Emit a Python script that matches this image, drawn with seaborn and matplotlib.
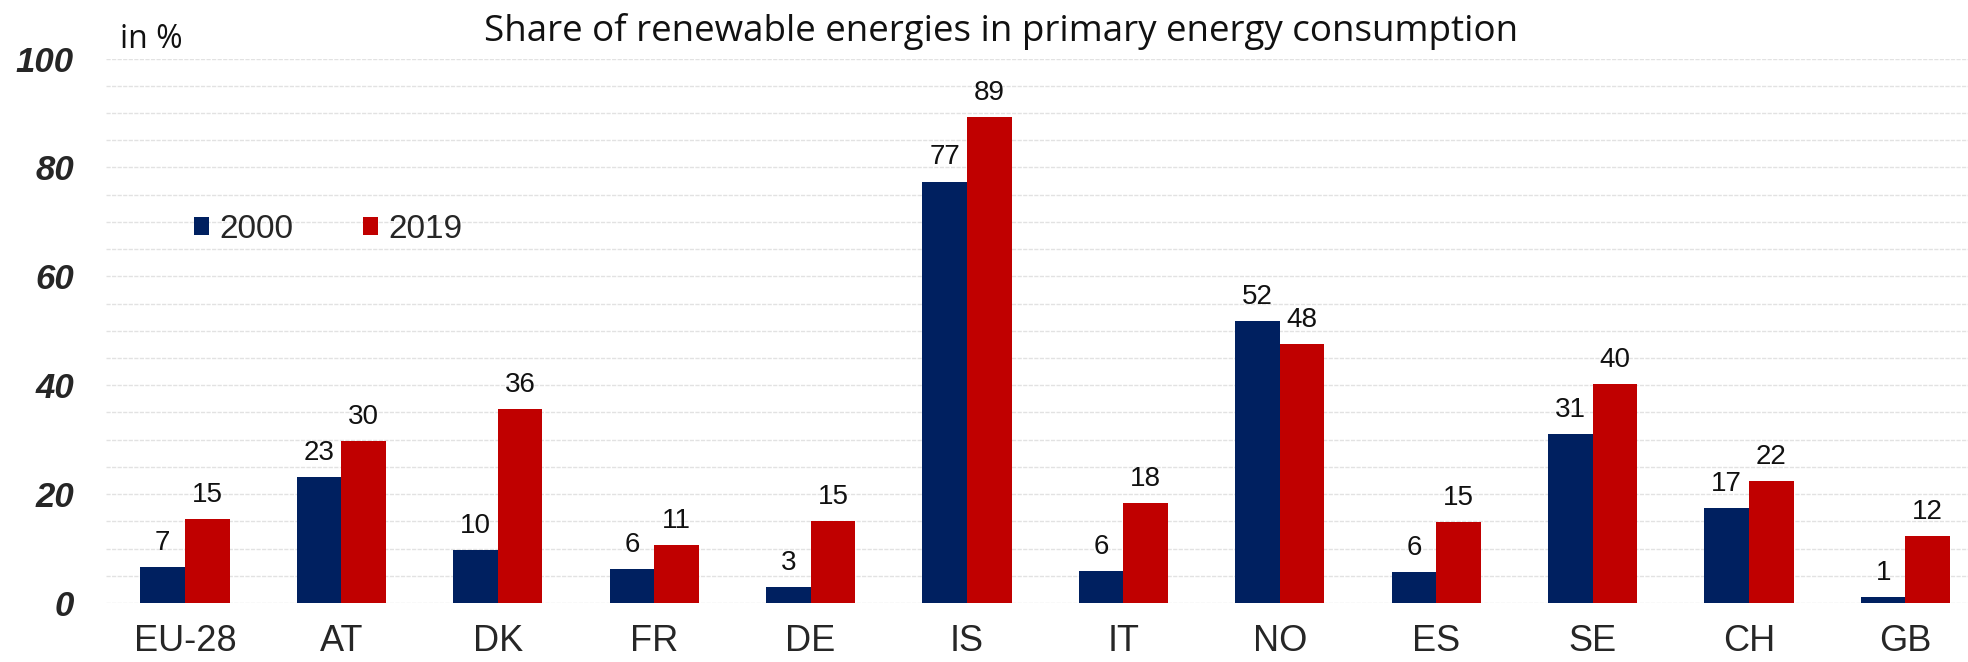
import numpy as np
import pandas as pd
import matplotlib
matplotlib.use("Agg")
import matplotlib.pyplot as plt
import seaborn as sns

countries = ["EU-28", "AT", "DK", "FR", "DE", "IS", "IT", "NO", "ES", "SE", "CH", "GB"]
share_2000 = [6.6, 23.1, 9.7, 6.2, 2.9, 77.4, 5.9, 51.7, 5.7, 31.0, 17.4, 1.1]
share_2019 = [15.4, 29.7, 35.7, 10.6, 15.1, 89.2, 18.3, 47.6, 14.9, 40.2, 22.4, 12.3]
years = ["2000", "2019"]
colors = ["#002060", "#C00000"]
yticks = [0, 20, 40, 60, 80, 100]

df = pd.DataFrame({
    "country": countries * 2,
    "year": [years[0]] * len(countries) + [years[1]] * len(countries),
    "value": share_2000 + share_2019,
})

sns.set_style("white")
plt.rcParams["font.family"] = ["Liberation Sans", "DejaVu Sans"]

W, H = 1968, 662
fig = plt.figure(figsize=(W / 100, H / 100), dpi=100)
left_px, right_px, top_px, bot_px = 106, 1968, 58.5, 603
ax = fig.add_axes([left_px / W, 1 - bot_px / H, (right_px - left_px) / W, (bot_px - top_px) / H])

sns.barplot(data=df, x="country", y="value", hue="year", palette=colors,
            width=0.57, gap=0, saturation=1, linewidth=0, ax=ax, zorder=3)

ax.set_ylim(0, 100)
ax.set_xlim(-0.505, 11.4)
for s in ax.spines.values():
    s.set_visible(False)

# gridlines every 5
for g in np.arange(0, 101, 5):
    ax.axhline(g, color="#E2E2E2", lw=1.0, ls=(0, (3, 1)), zorder=1)

ax.set_yticks(yticks)
ax.set_yticklabels([str(t) for t in yticks], fontsize=25, fontweight="bold", fontstyle="italic")
ax.tick_params(axis="y", length=0, pad=23)
ax.tick_params(axis="x", length=0, pad=15, labelsize=26)
ax.set_xlabel("")
ax.set_ylabel("")

for cont in ax.containers:
    vals = [b.get_height() for b in cont]
    ax.bar_label(cont, labels=[str(int(np.floor(v + 0.5))) for v in vals],
                 padding=8, fontsize=20, color="#111111")

handles, labels = ax.get_legend_handles_labels()
ax.legend(handles, labels, loc="center", bbox_to_anchor=(0.1192, 0.686), ncol=2,
          frameon=False, fontsize=24, handlelength=0.45, handleheight=0.45,
          handletextpad=0.3, columnspacing=2.1, borderaxespad=0, borderpad=0)

fig.text(1001 / W, 1 - 31 / H, "Share of renewable energies in primary energy consumption",
         ha="center", va="center", fontsize=26.5, family="Open Sans", color="#111111")
fig.text(120 / W, 1 - 39 / H, "in %", ha="left", va="center", fontsize=23,
         family="Open Sans", color="#111111")

fig.savefig("out.png", dpi=100, facecolor="white")
